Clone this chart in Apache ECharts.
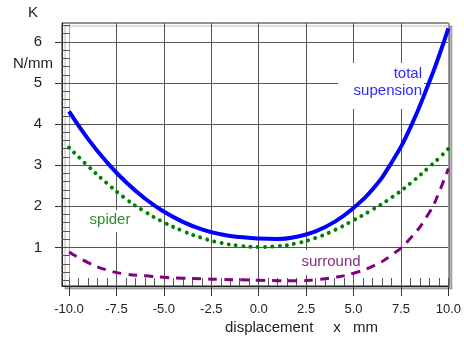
<!DOCTYPE html>
<html>
<head>
<meta charset="utf-8">
<script src="https://cdn.jsdelivr.net/npm/echarts@6/dist/echarts.min.js"></script>
<style>
  html, body { margin: 0; padding: 0; background: #fff; }
  #chart { width: 464px; height: 342px; }
</style>
</head>
<body>
<div id="chart"></div>
<script>
// Stiffness K (N/mm) against voice-coil displacement x (mm)
const displacement = [-10, -9, -8, -7, -6, -5, -4, -3, -2, -1, 0, 1, 2, 3, 4, 5, 6, 7, 8, 9, 9.5, 10];
const totalSuspension = [4.31, 3.64, 3.07, 2.59, 2.19, 1.87, 1.62, 1.44, 1.32, 1.25, 1.215, 1.205, 1.26, 1.39, 1.62, 1.96, 2.41, 3.06, 3.92, 5.03, 5.65, 6.33];
const spider = [3.43, 2.98, 2.56, 2.18, 1.87, 1.61, 1.40, 1.23, 1.11, 1.04, 1.01, 1.03, 1.10, 1.23, 1.42, 1.66, 1.92, 2.21, 2.56, 2.96, 3.17, 3.40];
const surround = [0.89, 0.63, 0.45, 0.35, 0.31, 0.27, 0.25, 0.235, 0.22, 0.21, 0.20, 0.19, 0.185, 0.215, 0.27, 0.37, 0.54, 0.81, 1.22, 1.85, 2.33, 2.92];

const xTickValues = [-10, -7.5, -5, -2.5, 0, 2.5, 5, 7.5, 10];
const yTickValues = [1, 2, 3, 4, 5, 6];

const FONT = "'Liberation Sans', Arial, sans-serif";

// minor tick positions: every 0.5 mm along x, every 0.2 N/mm along K
const xMinorTicks = [];
for (let i = -20; i <= 20; i++) xMinorTicks.push(i * 0.5);
const yMinorTicks = [];
for (let i = 1; i <= 32; i++) yMinorTicks.push(Math.round(i * 2) / 10);

function pairs(ys) { return displacement.map((x, i) => [x, ys[i]]); }

const X_MIN = -10.37, X_MAX = 10.03;
const Y_MIN = 0.06, Y_MAX = 6.46;

const chart = echarts.init(document.getElementById('chart'), null, { renderer: 'canvas' });

chart.setOption({
  animation: false,
  backgroundColor: '#fff',
  grid: {
    left: 62, right: 6, top: 23, bottom: 56,
    show: true,
    backgroundColor: '#fff',
    borderColor: '#222',
    borderWidth: 1,
    shadowColor: 'rgba(0,0,0,0.28)',
    shadowOffsetX: 3,
    shadowOffsetY: 3,
    shadowBlur: 0
  },
  xAxis: [
    {
      type: 'value', min: X_MIN, max: X_MAX,
      axisLine: { show: true, onZero: false, lineStyle: { color: '#222', width: 1 } },
      axisTick: { show: true, customValues: xTickValues, length: 10, lineStyle: { color: '#333' } },
      axisLabel: {
        customValues: xTickValues, margin: 17,
        formatter: v => v.toFixed(1),
        color: '#222', fontSize: 13, fontFamily: FONT
      },
      splitLine: {
        show: true,
        lineStyle: { color: ['#aaa', '#555', '#555', '#555', '#555', '#555', '#555', '#555', '#999'], width: 1 }
      }
    },
    {
      type: 'value', min: X_MIN, max: X_MAX, position: 'bottom', offset: 0,
      axisLine: { show: false, onZero: false },
      axisTick: { show: true, inside: true, customValues: xMinorTicks, length: 8, lineStyle: { color: '#555' } },
      axisLabel: { show: false },
      splitLine: { show: false }
    }
  ],
  yAxis: [
    {
      type: 'value', min: Y_MIN, max: Y_MAX,
      axisLine: { show: true, onZero: false, lineStyle: { color: '#222' } },
      axisTick: { show: true, customValues: yTickValues, length: 7, lineStyle: { color: '#333' } },
      axisLabel: {
        customValues: yTickValues, margin: 20,
        formatter: v => String(v),
        color: '#222', fontSize: 15, fontFamily: FONT
      },
      splitLine: { show: true, lineStyle: { color: '#555', width: 1 } }
    },
    {
      type: 'value', min: Y_MIN, max: Y_MAX, position: 'left', offset: 0,
      axisLine: { show: false, onZero: false },
      axisTick: { show: true, inside: true, customValues: yMinorTicks, length: 8, lineStyle: { color: '#555' } },
      axisLabel: { show: false },
      splitLine: { show: false }
    }
  ],
  graphic: [
    // axis titles
    { type: 'text', x: 33, y: 13, z: 1, style: { text: 'K', font: '15px ' + FONT, fill: '#222', align: 'center', verticalAlign: 'middle' } },
    { type: 'text', x: 33, y: 64, z: 1, style: { text: 'N/mm', font: '15px ' + FONT, fill: '#222', align: 'center', verticalAlign: 'middle' } },
    { type: 'text', x: 225, y: 328, z: 1, style: { text: 'displacement', font: '15px ' + FONT, fill: '#222', align: 'left', verticalAlign: 'middle' } },
    { type: 'text', x: 337, y: 328, z: 1, style: { text: 'x', font: '15px ' + FONT, fill: '#222', align: 'center', verticalAlign: 'middle' } },
    { type: 'text', x: 353, y: 328, z: 1, style: { text: 'mm', font: '15px ' + FONT, fill: '#222', align: 'left', verticalAlign: 'middle' } },
    // curve captions on white panels
    { type: 'rect', z: 1, shape: { x: 338, y: 63, width: 86, height: 46 }, style: { fill: '#fff' } },
    { type: 'text', x: 422, y: 74, z: 1, style: { text: 'total', font: '15px ' + FONT, fill: '#2a2aff', align: 'right', verticalAlign: 'middle' } },
    { type: 'text', x: 422, y: 91, z: 1, style: { text: 'supension', font: '15px ' + FONT, fill: '#2a2aff', align: 'right', verticalAlign: 'middle' } },
    { type: 'rect', z: 1, shape: { x: 86, y: 210, width: 48, height: 22 }, style: { fill: '#fff' } },
    { type: 'text', x: 110, y: 220, z: 1, style: { text: 'spider', font: '15px ' + FONT, fill: '#2e8b2e', align: 'center', verticalAlign: 'middle' } },
    { type: 'rect', z: 1, shape: { x: 298, y: 250, width: 68, height: 25 }, style: { fill: '#fff' } },
    { type: 'text', x: 331, y: 262, z: 1, style: { text: 'surround', font: '15px ' + FONT, fill: '#8b2a8b', align: 'center', verticalAlign: 'middle' } }
  ],
  series: [
    {
      name: 'total supension', type: 'line', smooth: true, showSymbol: false,
      data: pairs(totalSuspension),
      lineStyle: { color: '#0000ff', width: 4 }
    },
    {
      name: 'spider', type: 'line', smooth: true, showSymbol: false,
      data: pairs(spider),
      lineStyle: { color: '#008000', width: 4, type: [0.01, 7.3], cap: 'round' }
    },
    {
      name: 'surround', type: 'line', smooth: true, showSymbol: false,
      data: pairs(surround),
      lineStyle: { color: '#800080', width: 3, type: [9, 7] }
    }
  ]
});
</script>
</body>
</html>
